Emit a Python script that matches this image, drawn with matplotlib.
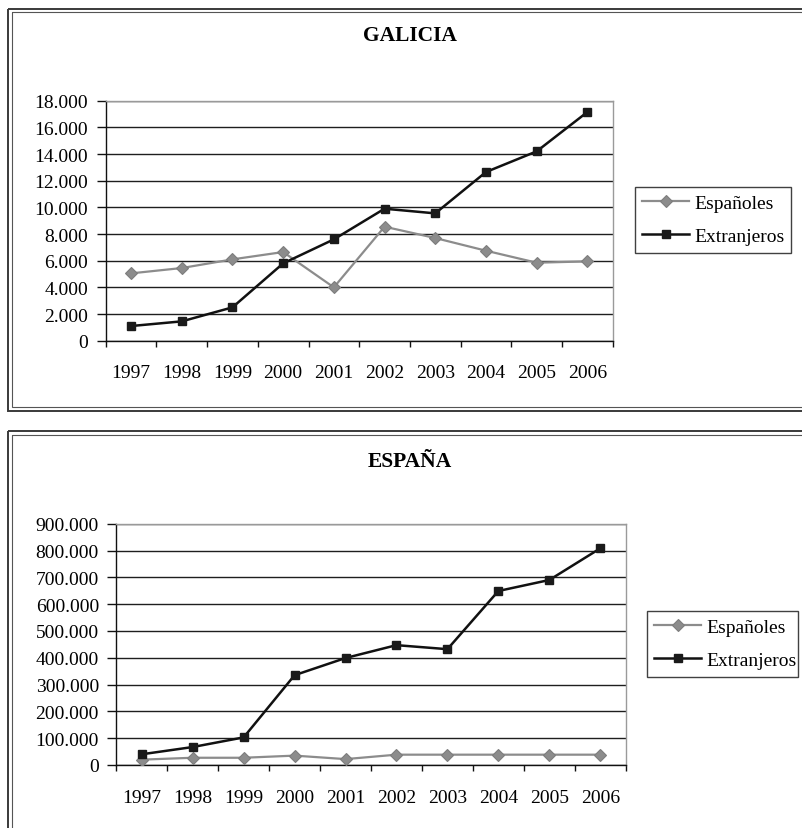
import matplotlib
matplotlib.use("Agg")
import matplotlib.pyplot as plt
from matplotlib.patches import Rectangle
from matplotlib.ticker import FuncFormatter, FixedLocator

plt.rcParams["font.family"] = ["Liberation Serif", "DejaVu Serif"]

years = ["1997", "1998", "1999", "2000", "2001", "2002", "2003", "2004", "2005", "2006"]

galicia_espanoles = [5050, 5450, 6100, 6650, 4000, 8550, 7700, 6750, 5850, 5950]
galicia_extranjeros = [1100, 1450, 2500, 5800, 7600, 9900, 9550, 12650, 14200, 17150]

espana_espanoles = [20000, 27000, 27000, 35000, 22000, 38500, 38500, 38500, 38500, 38500]
espana_extranjeros = [40000, 67000, 103000, 335000, 399000, 447000, 432000, 649000, 690000, 808000]

series_names = ["Españoles", "Extranjeros"]

W, H = 802, 829
fig = plt.figure(figsize=(W / 100, H / 100), dpi=100)

GRAY = "#8c8c8c"
FS = 14


def px_axes(left, top, right, bottom):
    return fig.add_axes([left / W, 1 - bottom / H, (right - left) / W, (bottom - top) / H])


def thousands(v, _pos):
    return f"{int(round(v)):,}".replace(",", ".")


def draw_panel(ax, title, esp, ext, ymax, ystep, title_y, legend_box):
    x = list(range(len(years)))
    ax.plot(x, esp, color=GRAY, lw=1.6, marker="D", ms=6.5,
            mfc=GRAY, mec="#7d7d7d", mew=0.8, label=series_names[0], zorder=3)
    ax.plot(x, ext, color="#111111", lw=1.8, marker="s", ms=6,
            mfc="#1a1a1a", mec="#1a1a1a", label=series_names[1], zorder=4)

    ax.set_xlim(-0.5, len(years) - 0.5)
    ax.set_ylim(0, ymax)
    ax.set_yticks(range(0, ymax + 1, ystep))
    ax.yaxis.set_major_formatter(FuncFormatter(thousands))

    ax.set_xticks(x)
    ax.set_xticklabels(years)
    ax.xaxis.set_minor_locator(FixedLocator([i - 0.5 for i in range(len(years) + 1)]))
    ax.tick_params(axis="x", which="major", length=0, pad=17, labelsize=FS)
    ax.tick_params(axis="x", which="minor", length=4.5, width=1.0, direction="out", color="#111111")
    ax.tick_params(axis="y", length=6.5, width=1.0, pad=6, labelsize=FS, color="#111111")

    ax.set_axisbelow(True)
    ax.yaxis.grid(True, color="#1e1e1e", lw=1.0)
    for side in ("left", "bottom"):
        ax.spines[side].set_color("#111111")
        ax.spines[side].set_linewidth(1.0)
    for side in ("top", "right"):
        ax.spines[side].set_color("#9a9a9a")
        ax.spines[side].set_linewidth(1.0)

    fig.text(410 / W, 1 - title_y / H, title, ha="center", va="center",
             fontsize=15.5, fontweight="bold")

    lx0, ly0, lx1, ly1 = legend_box
    leg = ax.legend(loc="upper left",
                    bbox_to_anchor=(lx0 / W, 1 - ly1 / H, (lx1 - lx0) / W, (ly1 - ly0) / H),
                    bbox_transform=fig.transFigure, mode="expand",
                    fontsize=FS, frameon=True, fancybox=False, shadow=False,
                    handlelength=2.4, handletextpad=0.3, labelspacing=0.8,
                    borderpad=0.38, borderaxespad=0.0)
    leg.get_frame().set_edgecolor("#111111")
    leg.get_frame().set_linewidth(1.0)


ax1 = px_axes(105.7, 101.7, 612.7, 341.7)
draw_panel(ax1, "GALICIA", galicia_espanoles, galicia_extranjeros, 18000, 2000,
           36, (635, 188, 791, 252))

ax2 = px_axes(116.3, 524.7, 625.7, 766.0)
draw_panel(ax2, "ESPAÑA", espana_espanoles, espana_extranjeros, 900000, 100000,
           462, (647, 612, 798, 676))

# double-line frames around each chart
overlay = fig.add_axes([0, 0, 1, 1], zorder=-1)
overlay.set_xlim(0, W)
overlay.set_ylim(H, 0)
overlay.axis("off")
for top, bottom in ((9.7, 411.7), (432.3, 880)):
    overlay.add_patch(Rectangle((8, top), 840, bottom - top, fill=False,
                                ec="#3a3a3a", lw=1.4))
    overlay.add_patch(Rectangle((12, top + 3.6), 832, bottom - top - 7.2, fill=False,
                                ec="#555555", lw=0.8))

fig.savefig("out.png", dpi=100)
